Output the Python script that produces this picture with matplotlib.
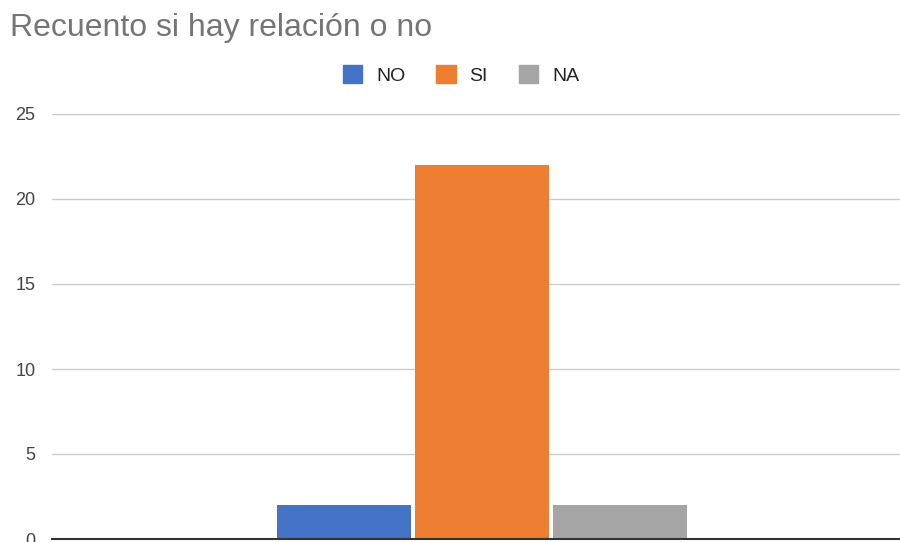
import matplotlib.pyplot as plt
from matplotlib.patches import Patch

plt.rcParams['font.family'] = ['Liberation Sans', 'DejaVu Sans']

# datos
series = ['NO', 'SI', 'NA']
valores = [2, 22, 2]
colores = ['#4472c4', '#ed7d31', '#a5a5a5']
offsets = [-1, 0, 1]

fig = plt.figure(figsize=[9, 5.42], dpi=100)
ax = fig.add_axes([52 / 900, 3 / 542, 848 / 900, 425 / 542])

for s, v, c, o in zip(series, valores, colores, offsets):
    ax.bar(o, v, width=0.971, color=c, label=s, zorder=3)

ax.set_xlim(-3.116, 3.029)
ax.set_ylim(0, 25)
ax.set_yticks([0, 5, 10, 15, 20, 25])
ax.set_xticks([])
ax.grid(axis='y', color='#cccccc', linewidth=1, zorder=0)
for side in ['top', 'right', 'left']:
    ax.spines[side].set_visible(False)
ax.spines['bottom'].set_color('#333333')
ax.spines['bottom'].set_linewidth(1.5)
ax.spines['bottom'].set_zorder(4)
ax.tick_params(axis='y', length=0, labelsize=13, labelcolor='#444444', pad=12)

fig.text(10 / 900, 1 - 28 / 542, 'Recuento si hay relación o no', fontsize=23,
         color='#757575', va='center', ha='left')

handles = [Patch(facecolor=c, edgecolor=c, label=s) for s, c in zip(series, colores)]
fig.legend(handles=handles, loc='center', bbox_to_anchor=(461 / 900, 1 - 75 / 542),
           ncol=3, frameon=False, fontsize=14, handlelength=1.0, handleheight=1.0,
           handletextpad=0.7, columnspacing=1.6, labelcolor='#222222')

fig.savefig('out.png', dpi=100)
